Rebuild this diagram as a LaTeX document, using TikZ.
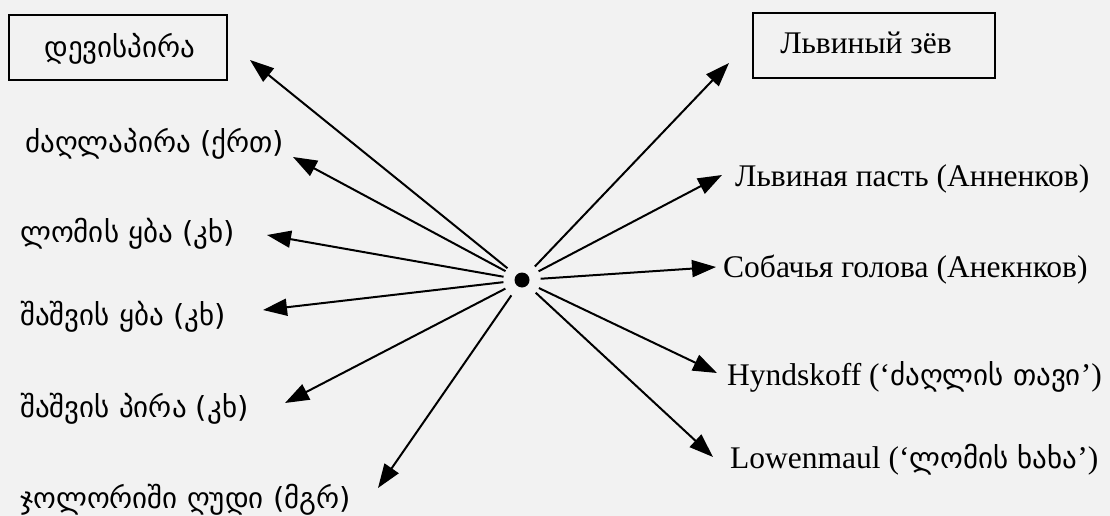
\documentclass[tikz,border=0pt]{standalone}
\usepackage{fontspec}
\setmainfont{Liberation Serif}
\newfontfamily\geo{DejaVu Sans}
\usetikzlibrary{arrows.meta}
\newcommand{\geofont}{\fontsize{29}{33}\selectfont\geo}
\begin{document}
\begin{tikzpicture}[x=1pt,y=-1pt,
  lat/.style={anchor=base west, inner sep=0pt, font=\fontsize{31.5}{36}\selectfont},
  gl/.style={anchor=base west, inner sep=0pt, font=\geofont},
  boxlbl/.style={draw, line width=1.4pt, inner sep=0pt},
  arr/.style={line width=2pt, -{Triangle[length=24pt,width=17pt]}, shorten <=11pt},
]
\fill[white!95!black] (0,0) rectangle (1110,516);
\useasboundingbox (0,0) rectangle (1110,516);
% boxes
\node[boxlbl, minimum width=218pt, minimum height=65pt] (b1) at (118,47.5) {};
\node[gl, anchor=base] (devis) at (120,58) {დევისპირა};
\node[boxlbl, minimum width=242pt, minimum height=65pt] (b2) at (874,45.5) {};
\node[lat, anchor=base] (lviny) at (866,54) {Львиный зёв};
% left labels
\node[gl] (l1) at (25,152) {ძაღლაპირა (ქრთ)};
\node[gl] (l2) at (20,242) {ლომის ყბა (კხ)};
\node[gl] (l3) at (20,325) {შაშვის ყბა (კხ)};
\node[gl] (l4) at (20,417) {შაშვის პირა (კხ)};
\node[gl] (l5) at (20,508) {ჯოლორიში ღუდი (მგრ)};
% right labels
\node[lat] (r1) at (735,186) {Львиная пасть (Анненков)};
\node[lat] (r2) at (723,277) {Собачья голова (Анекнков)};
\node[lat] (r3) at (727,385) {Hyndskoff (‘{\geofont ძაღლის თავი}’)};
\node[lat] (r4) at (730,468) {Lowenmaul (‘{\geofont ლომის ხახა}’)};
% centre
\node[circle, fill=black, minimum size=15pt, inner sep=0pt] (c) at (522,280) {};
% arrow tips
\coordinate (t0) at (250,60);
\coordinate (t1) at (293,157);
\coordinate (t2) at (267,235);
\coordinate (t3) at (263,310);
\coordinate (t4) at (285,403);
\coordinate (t5) at (378,488);
\coordinate (u0) at (729,63);
\coordinate (u1) at (722,175);
\coordinate (u2) at (716,267);
\coordinate (u3) at (717,373);
\coordinate (u4) at (713,457);
\foreach \t in {t0,t1,t2,t3,t4,t5,u0,u1,u2,u3,u4}
  \draw[arr] (c) -- (\t);
\end{tikzpicture}
\end{document}
